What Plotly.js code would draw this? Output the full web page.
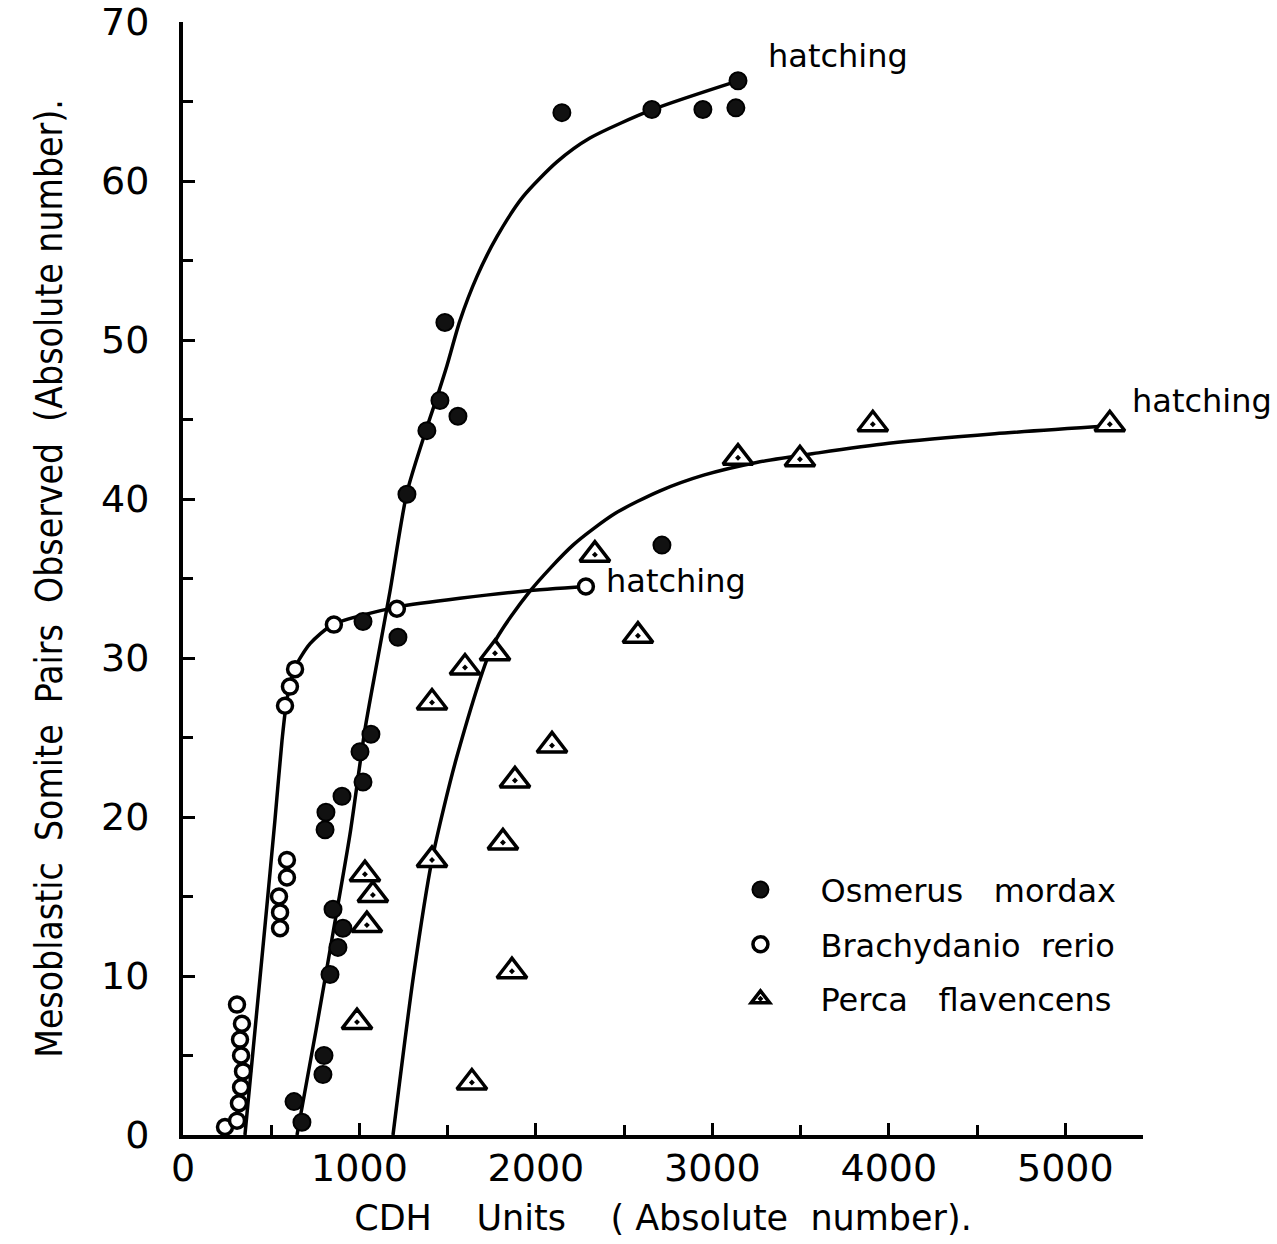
<!DOCTYPE html>
<html><head><meta charset="utf-8">
<script src="https://cdn.plot.ly/plotly-3.0.1.min.js"></script>
<style>html,body{margin:0;padding:0;background:#fff}#chart{width:1277px;height:1244px}</style>
</head><body><div id="chart"></div>
<script>
// Osmerus mordax (dark circles); last point = hatching
const osmerusX = [674, 629, 793, 799, 833, 878, 906, 850, 805, 810, 901, 1020, 1003, 1065, 1020, 1218, 1269, 1382, 1456, 1484, 1558, 2714, 2147, 2657, 2946, 3133, 3145];
const osmerusY = [0.8, 2.1, 3.8, 5.0, 10.1, 11.8, 13.0, 14.2, 19.2, 20.3, 21.3, 22.2, 24.1, 25.2, 32.3, 31.3, 40.3, 44.3, 46.2, 51.1, 45.2, 37.1, 64.3, 64.5, 64.5, 64.6, 66.3];
// Brachydanio rerio (open circles); last point = hatching
const brachyX = [238, 306, 317, 329, 340, 329, 323, 334, 306, 550, 550, 544, 589, 589, 578, 606, 635, 855, 1212, 2283];
const brachyY = [0.5, 0.9, 2.0, 3.0, 4.0, 5.0, 6.0, 7.0, 8.2, 13.0, 14.0, 15.0, 16.2, 17.3, 27.0, 28.2, 29.3, 32.1, 33.1, 34.5];
// Perca flavencens (triangles); last point = hatching
const percaX = [1637, 1864, 986, 1042, 1076, 1031, 1411, 1813, 1881, 2091, 1411, 1598, 1768, 2578, 2334, 3145, 3496, 3909, 5252];
const percaY = [3.3, 10.3, 7.1, 13.2, 15.1, 16.4, 17.3, 18.4, 22.3, 24.5, 27.2, 29.4, 30.3, 31.4, 36.5, 42.6, 42.5, 44.7, 44.7];

// fitted curves as drawn in the figure
const osmCurveX = [646, 754, 850, 946, 1031, 1099, 1173, 1269, 1382, 1439, 1496, 1569, 1666, 1779, 1926, 2119, 2306, 2663, 3145];
const osmCurveY = [0, 6.6, 12.7, 18.9, 25.5, 29.7, 34.2, 40.4, 44.5, 46.4, 48.4, 51.2, 54.0, 56.5, 59.0, 61.2, 62.7, 64.5, 66.3];
const brachyCurveX = [351, 408, 465, 521, 561, 589, 635, 720, 850, 1212, 1926, 2283];
const brachyCurveY = [0, 6.6, 13.2, 19.8, 24.8, 27.4, 29.4, 30.9, 32.1, 33.2, 34.2, 34.5];
const percaCurveX = [1190, 1306, 1411, 1552, 1756, 1966, 2210, 2450, 2700, 2950, 3250, 3600, 4000, 4600, 5252];
const percaCurveY = [0, 10, 17.3, 23.8, 30.8, 34.2, 37.1, 39.1, 40.5, 41.5, 42.3, 42.9, 43.5, 44.1, 44.6];

const xTickVals = [0, 1000, 2000, 3000, 4000, 5000];
const yTickVals = [0, 10, 20, 30, 40, 50, 60, 70];

const FONT = 'DejaVu Sans, Verdana, sans-serif';
const NB = '\u00a0';

function curve(x, y) {
  return {x: x, y: y, mode: 'lines', line: {color: '#000', width: 3.5, shape: 'spline', smoothing: 0.7},
          showlegend: false, hoverinfo: 'skip', cliponaxis: false};
}

const traces = [
  curve(osmCurveX, osmCurveY),
  curve(brachyCurveX, brachyCurveY),
  curve(percaCurveX, percaCurveY),
  {x: osmerusX, y: osmerusY, mode: 'markers', name: 'Osmerus' + NB + NB + NB + 'mordax', legendgroup: 'a',
   marker: {symbol: 'circle', size: 17, color: '#111', line: {color: '#000', width: 2}}, cliponaxis: false},
  {x: brachyX, y: brachyY, mode: 'markers', name: 'Brachydanio' + NB + NB + 'rerio', legendgroup: 'b',
   marker: {symbol: 'circle', size: 15, color: '#fff', line: {color: '#000', width: 3.5}}, cliponaxis: false},
  {x: percaX, y: percaY, mode: 'markers', name: 'Perca' + NB + NB + NB + 'flavencens', legendgroup: 'c',
   marker: {symbol: 'triangle-up-dot', size: 26, color: '#fff', line: {color: '#000', width: 3.5}}, cliponaxis: false}
];

const last = a => a[a.length - 1];
function hatch(x, y, xs, ys) {
  return {x: x, y: y, text: 'hatching', showarrow: false, xanchor: 'left', yanchor: 'middle',
          xshift: xs, yshift: ys, font: {family: FONT, size: 32, color: '#000'}};
}

const layout = {
  width: 1277, height: 1244,
  paper_bgcolor: '#fff', plot_bgcolor: '#fff',
  margin: {l: 183, r: 134, t: 22, b: 109},
  showlegend: true,
  legend: {x: 0.539, xanchor: 'left', y: 0.245, yanchor: 'top', traceorder: 'grouped', tracegroupgap: 10,
           font: {family: FONT, size: 32, color: '#000'}, bgcolor: 'rgba(0,0,0,0)', itemwidth: 110},
  xaxis: {
    range: [0, 5440], showgrid: false, zeroline: false, showline: true, linecolor: '#000', linewidth: 4,
    tickvals: xTickVals, ticktext: xTickVals.map(String), ticks: 'inside', ticklen: 12, tickwidth: 3, tickcolor: '#000',
    minor: {dtick: 500, ticks: 'inside', ticklen: 10, tickwidth: 3, tickcolor: '#000'},
    tickfont: {family: FONT, size: 38, color: '#000'}, ticklabelstandoff: -4,
    title: {text: 'CDH' + NB + NB + NB + NB + 'Units' + NB + NB + NB + NB + '(' + NB + 'Absolute' + NB + NB + 'number).',
            font: {family: FONT, size: 35, color: '#000'}, standoff: 18}
  },
  yaxis: {
    range: [0, 70], showgrid: false, zeroline: false, showline: true, linecolor: '#000', linewidth: 4,
    tickvals: yTickVals, ticktext: yTickVals.map(String), ticks: 'inside', ticklen: 12, tickwidth: 3, tickcolor: '#000',
    minor: {dtick: 5, ticks: 'inside', ticklen: 10, tickwidth: 3, tickcolor: '#000'},
    tickfont: {family: FONT, size: 38, color: '#000'}, ticklabelstandoff: 22,
    title: {text: 'Mesoblastic' + NB + NB + 'Somite' + NB + NB + 'Pairs' + NB + NB + 'Observed' + NB + NB + '(Absolute' + NB + 'number).',
            font: {family: 'DejaVu Sans Condensed, Liberation Sans Narrow, DejaVu Sans, sans-serif', size: 37, color: '#000'}, standoff: 28}
  },
  annotations: [
    hatch(last(osmerusX), last(osmerusY), 28, 25),
    hatch(last(percaX), last(percaY), 20, 23),
    hatch(last(brachyX), last(brachyY), 18, 5)
  ]
};

Plotly.newPlot('chart', traces, layout, {displayModeBar: false, staticPlot: true});
</script>
</body></html>
